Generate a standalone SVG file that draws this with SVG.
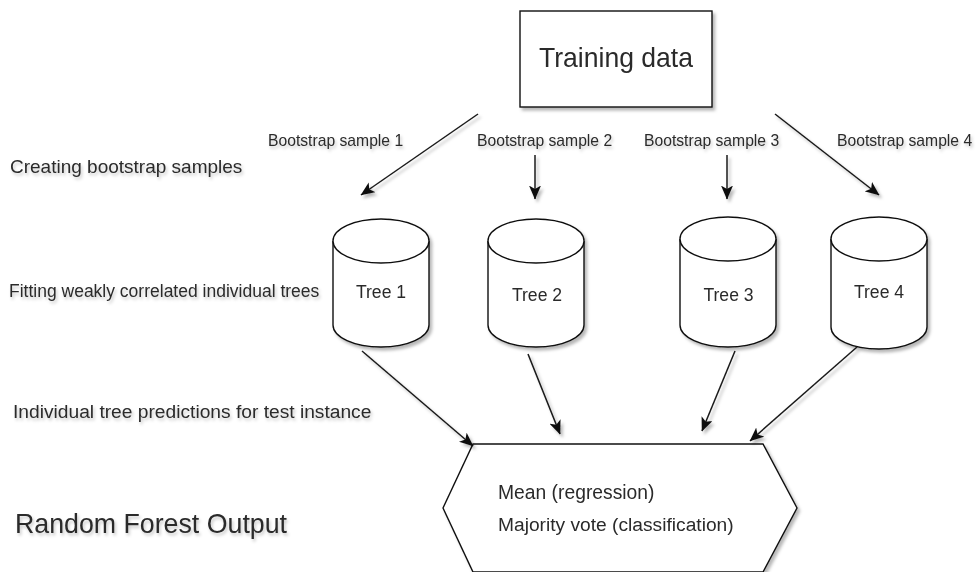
<svg xmlns="http://www.w3.org/2000/svg" width="976" height="572" viewBox="0 0 976 572">
<style>
  text { font-family: "Liberation Sans", Arial, sans-serif; fill: #2b2b2b; }
  .shape { fill: #ffffff; stroke: #111111; stroke-width: 1.4; }
  .conn { stroke: #1a1a1a; stroke-width: 1.5; fill: none; marker-end: url(#arrow); }
  .lbl { filter: url(#tshadow); }
  .sh { filter: url(#shadow); }
</style>
<defs>
  <filter id="shadow" x="-10%" y="-10%" width="130%" height="130%">
    <feDropShadow dx="2.5" dy="3" stdDeviation="1.6" flood-color="#000000" flood-opacity="0.28"/>
  </filter>
  <filter id="tshadow" x="-5%" y="-30%" width="115%" height="190%">
    <feDropShadow dx="1.5" dy="2.5" stdDeviation="1.4" flood-color="#000000" flood-opacity="0.22"/>
  </filter>
  <marker id="arrow" viewBox="0 0 14 12" refX="13.5" refY="6" markerWidth="14" markerHeight="12" markerUnits="userSpaceOnUse" orient="auto">
    <path d="M0,0 L14,6 L0,12 L3.5,6 Z" fill="#111111"/>
  </marker>
</defs>
<rect width="976" height="572" fill="#ffffff"/>

<g id="side-labels" class="lbl">
  <text x="10" y="173" font-size="19">Creating bootstrap samples</text>
  <text x="9" y="297" font-size="17.5">Fitting weakly correlated individual trees</text>
  <text x="13" y="418" font-size="19.2">Individual tree predictions for test instance</text>
  <text x="15" y="533" font-size="27.5" textLength="272" lengthAdjust="spacingAndGlyphs">Random Forest Output</text>
</g>

<g id="training-data" class="sh">
  <rect class="shape" x="520" y="11" width="192" height="96"/>
  <text x="539" y="67" font-size="27.5" textLength="154" lengthAdjust="spacingAndGlyphs">Training data</text>
</g>

<g id="bootstrap-labels" class="lbl">
  <text x="268" y="146" font-size="15.7">Bootstrap sample 1</text>
  <text x="477" y="146" font-size="15.7">Bootstrap sample 2</text>
  <text x="644" y="146" font-size="15.7">Bootstrap sample 3</text>
  <text x="837" y="146" font-size="15.7">Bootstrap sample 4</text>
</g>

<g id="tree1" class="sh">
  <path class="shape" d="M333,241 A48,22 0 0 1 429,241 L429,325 A48,22 0 0 1 333,325 Z"/>
  <path class="shape" fill="none" d="M333,241 A48,22 0 0 0 429,241"/>
  <text x="381" y="298" font-size="17.6" text-anchor="middle">Tree 1</text>
</g>
<g id="tree2" class="sh">
  <path class="shape" d="M488,241 A48,22 0 0 1 584,241 L584,325 A48,22 0 0 1 488,325 Z"/>
  <path class="shape" fill="none" d="M488,241 A48,22 0 0 0 584,241"/>
  <text x="537" y="301" font-size="17.6" text-anchor="middle">Tree 2</text>
</g>
<g id="tree3" class="sh">
  <path class="shape" d="M680,239 A48,22 0 0 1 776,239 L776,325 A48,22 0 0 1 680,325 Z"/>
  <path class="shape" fill="none" d="M680,239 A48,22 0 0 0 776,239"/>
  <text x="728.5" y="301" font-size="17.6" text-anchor="middle">Tree 3</text>
</g>
<g id="tree4" class="sh">
  <path class="shape" d="M831,239 A48,22 0 0 1 927,239 L927,327 A48,22 0 0 1 831,327 Z"/>
  <path class="shape" fill="none" d="M831,239 A48,22 0 0 0 927,239"/>
  <text x="879" y="298" font-size="17.6" text-anchor="middle">Tree 4</text>
</g>

<g id="output" class="sh">
  <polygon class="shape" points="473,444 763,444 797,508 763,572 473,572 443,508"/>
  <text x="498" y="499" font-size="19.3">Mean (regression)</text>
  <text x="498" y="531" font-size="19.2">Majority vote (classification)</text>
</g>

<g id="connectors" class="sh">
  <line class="conn" x1="478" y1="114" x2="361" y2="195"/>
  <line class="conn" x1="535" y1="155" x2="535" y2="199"/>
  <line class="conn" x1="727" y1="155" x2="727" y2="199"/>
  <line class="conn" x1="775" y1="114" x2="879" y2="195"/>
  <line class="conn" x1="362" y1="351" x2="473" y2="446"/>
  <line class="conn" x1="528" y1="354" x2="560" y2="434"/>
  <line class="conn" x1="735" y1="351" x2="702" y2="431"/>
  <line class="conn" x1="857" y1="347" x2="750" y2="441"/>
</g>
</svg>
